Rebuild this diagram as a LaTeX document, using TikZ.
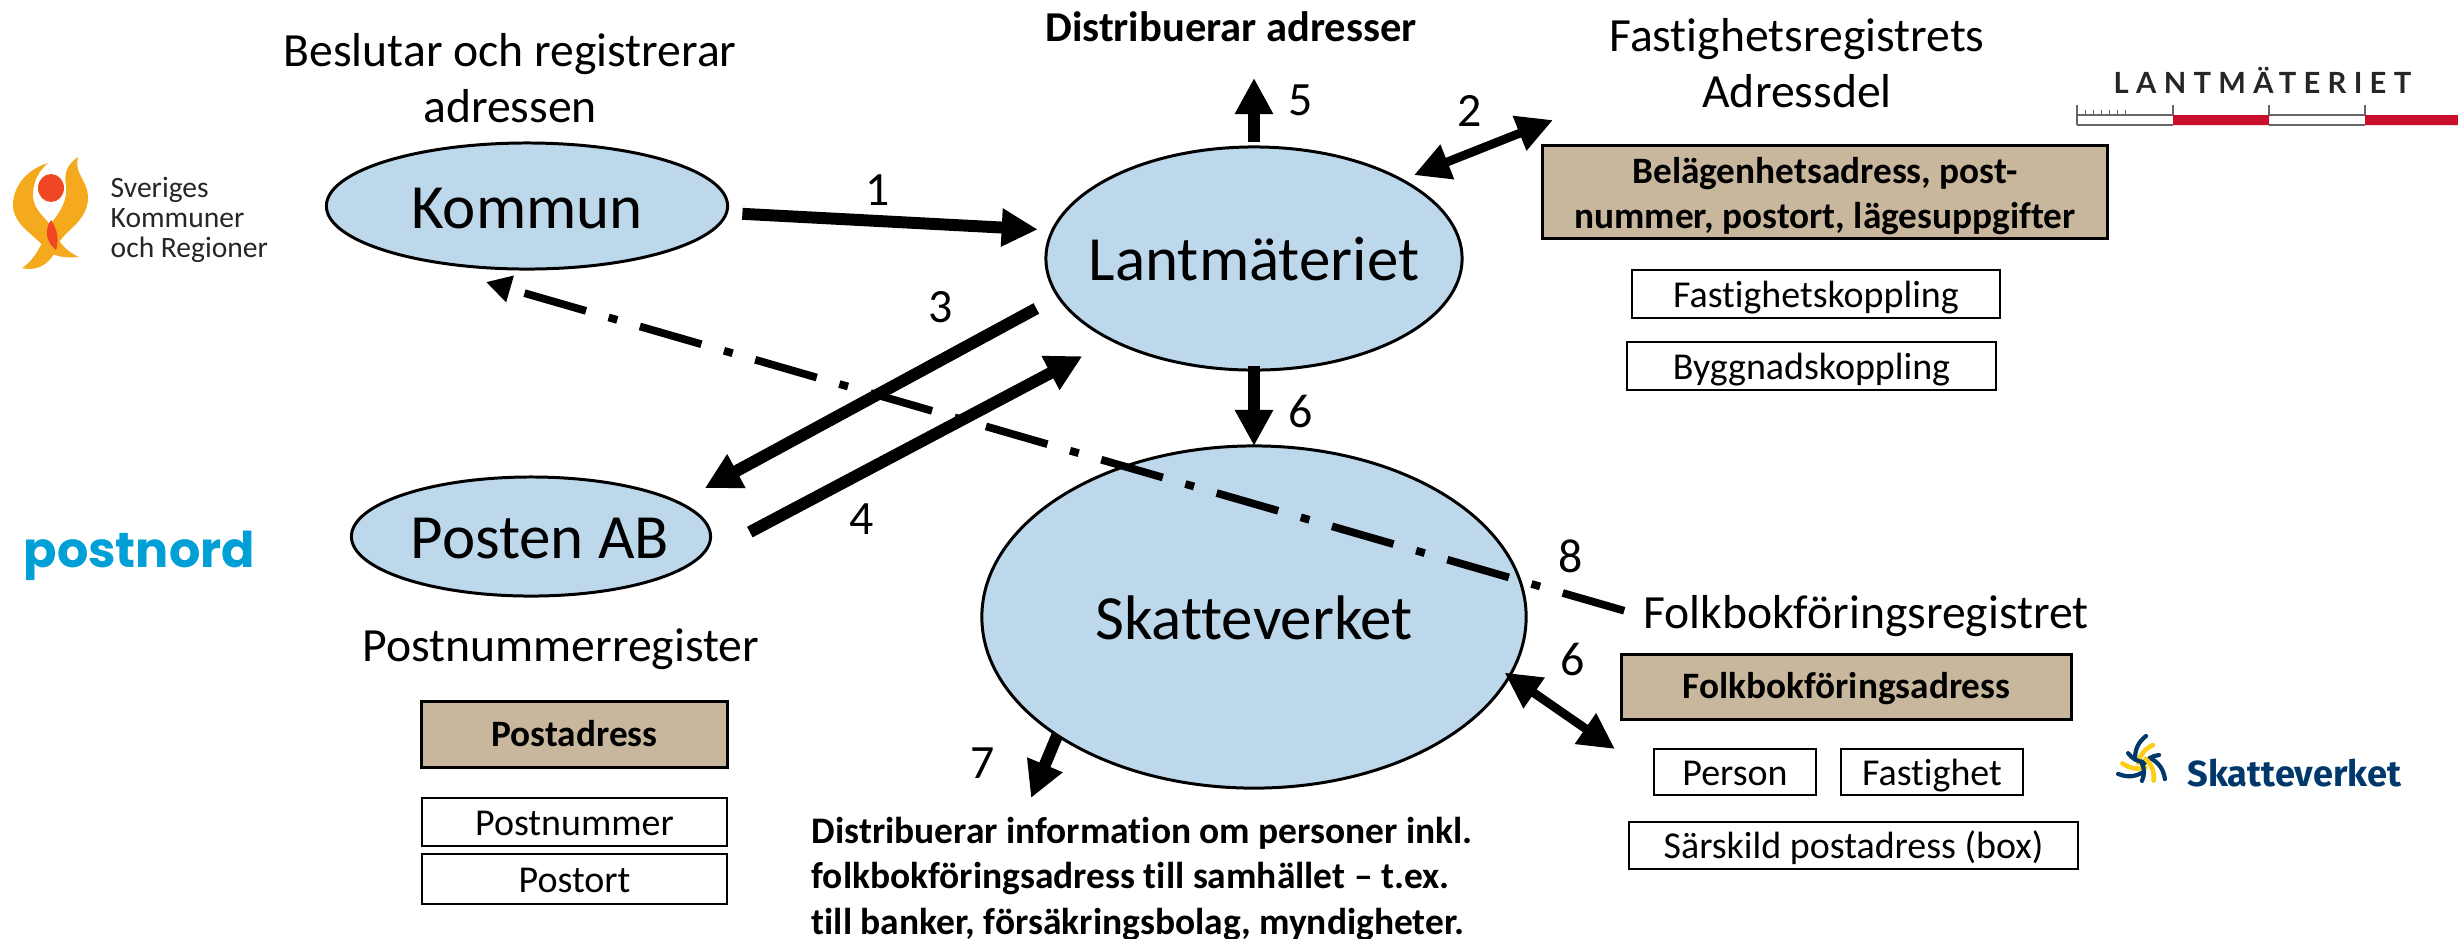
\documentclass[tikz,border=0pt]{standalone}
\usepackage{fontspec}
\setmainfont[Ligatures=NoCommon]{Carlito}
\newfontfamily\lmlogofont[LetterSpace=25]{Lato}
\newfontfamily\svlogofont{Fira Sans}
\newfontfamily\pnlogofont{Poppins}
\usetikzlibrary{shapes.geometric,arrows.meta}
\definecolor{ovalblue}{RGB}{189,215,235}
\definecolor{boxtan}{RGB}{201,183,157}
\definecolor{lmred}{RGB}{200,16,46}
\definecolor{svnavy}{RGB}{0,56,107}
\definecolor{svyellow}{RGB}{253,205,20}
\definecolor{pncyan}{RGB}{0,160,214}
\definecolor{skrorange}{RGB}{245,170,30}
\definecolor{skrred}{RGB}{240,70,35}
\begin{document}
\begin{tikzpicture}[x=0.01cm,y=-0.01cm]
        \tikzstyle{agent}=[ellipse,draw=black,fill=ovalblue,line width=0.85pt,inner xsep=-1.6cm,inner ysep=-0.4cm,outer sep=0,text height=0.5cm,text depth=0.06cm,font=\fontsize{17.9}{20}\selectfont]
        \tikzstyle{keybox}=[rectangle,draw=black,fill=boxtan,line width=0.85pt,inner sep=0,outer sep=0,align=center,font=\fontsize{10.6}{12.8}\selectfont\bfseries]
        \tikzstyle{keyone}=[keybox,text height=0.34cm,text depth=0.10cm]
        \tikzstyle{fieldbox}=[rectangle,draw=black,fill=white,line width=0.65pt,inner sep=0,outer sep=0,text height=0.36cm,text depth=0.10cm,font=\fontsize{10.8}{13}\selectfont]
        \tikzstyle{heading}=[inner sep=0,align=center,font=\fontsize{13.55}{16}\selectfont]
        \tikzstyle{note}=[inner sep=0,align=left,font=\fontsize{10.65}{13}\selectfont\bfseries]
        \tikzstyle{num}=[inner sep=0,font=\fontsize{13.6}{16}\selectfont]
        \tikzstyle{flow}=[line width=3.4pt,-{Triangle[length=0.36cm,width=0.36cm]}]
        \tikzstyle{both}=[line width=2.5pt,{Triangle[length=0.36cm,width=0.35cm]}-{Triangle[length=0.36cm,width=0.35cm]}]
        \tikzstyle{ret}=[line width=2.2pt,dash pattern=on 0.64cm off 0.235cm on 0.09cm off 0.235cm,-{Triangle[length=0.25cm,width=0.26cm]}]
        \useasboundingbox (0,0) rectangle (2458,938);

        % ovals
        \node [agent,minimum width=4.01cm,minimum height=1.26cm] (kommun) at (527,206) {Kommun};
        \node [agent,minimum width=4.16cm,minimum height=2.23cm] (lantm) at (1254,258.5) {Lantmäteriet};
        \node [agent,minimum width=3.59cm,minimum height=1.19cm] (posten) at (531,536.5) {\hspace{5pt}Posten AB};
        \node [agent,minimum width=5.44cm,minimum height=3.42cm] (skatte) at (1254,617) {Skatteverket};

        % headings
        \node [heading] (beslut) at (510,78) {Beslutar och registrerar\\adressen};
        \node [heading] (fastreg) at (1797,63) {Fastighetsregistrets\\Adressdel};
        \node [heading] (postreg) at (561,649) {Postnummerregister};
        \node [heading] (folkreg) at (1866,616) {Folkbokföringsregistret};
        \node [note,font=\fontsize{12.1}{14}\selectfont\bfseries] (distaddr) at (1231,27) {Distribuerar adresser};
        \node [note,anchor=west] (distinfo) at (811,879) {Distribuerar information om personer inkl.\\folkbokföringsadress till samhället – t.ex.\\till banker, försäkringsbolag, myndigheter.};

        % boxes
        \node [keybox,minimum width=5.64cm,minimum height=0.92cm] (belagen) at (1825,192) {\rule{0pt}{10pt}Belägenhetsadress, post-\\nummer, postort, lägesuppgifter};
        \node [fieldbox,minimum width=3.68cm,minimum height=0.48cm] (fastkop) at (1816,294) {Fastighetskoppling};
        \node [fieldbox,minimum width=3.69cm,minimum height=0.48cm] (byggkop) at (1811.5,366) {Byggnadskoppling};
        \node [keyone,minimum width=3.05cm,minimum height=0.66cm] (postadr) at (574.5,734) {Postadress};
        \node [fieldbox,minimum width=3.05cm,minimum height=0.48cm] (postnr) at (574.5,822) {Postnummer};
        \node [fieldbox,minimum width=3.05cm,minimum height=0.50cm] (postort) at (574.5,879) {Postort};
        \node [keyone,minimum width=4.49cm,minimum height=0.65cm] (folkadr) at (1846.5,686.5) {Folkbokföringsadress};
        \node [fieldbox,minimum width=1.62cm,minimum height=0.44cm] (person) at (1735,772) {Person};
        \node [fieldbox,minimum width=1.82cm,minimum height=0.44cm] (fastig) at (1932,772) {Fastighet};
        \node [fieldbox,minimum width=4.49cm,minimum height=0.47cm] (sarskild) at (1853.5,845.5) {Särskild postadress (box)};

        % free arrow ends
        \coordinate (addrup) at (1254,78);
        \coordinate (addrdel) at (1553,120);
        \coordinate (sameh) at (1031,798);
        \coordinate (folkpil) at (1615,749);
        \coordinate (kommunpil) at (486,282);

        % arrows
        \draw [flow,shorten <=0.16cm,shorten >=0.15cm] (kommun.-2.3) -- (lantm.172.5);
        \draw [both,shorten <=0.13cm] (lantm.28) -- (addrdel);
        \draw [flow,shorten <=0.25cm,shorten >=0.30cm] (lantm.191.8) -- (posten.13.1);
        \draw [flow,shorten <=0.895cm,shorten >=0.34cm] (posten.-15) -- (lantm.210.2);
        \draw [flow,shorten <=0.05cm] (lantm.north) -- (addrup);
        \draw [flow,shorten <=-0.04cm] (lantm.south) -- (skatte.north);
        \draw [flow] (skatte.211.5) -- (sameh);
        \draw [both,shorten <=-0.06cm] (skatte.-13) -- (folkpil);
        \draw [ret,shorten <=0.19cm] (folkreg.west) -- (kommunpil);

        % numbers
        \node [num] (n1) at (878,190) {1};
        \node [num] (n2) at (1470,111) {2};
        \node [num] (n3) at (941,307) {3};
        \node [num] (n4) at (862,519) {4};
        \node [num] (n5) at (1301,100) {5};
        \node [num] (n6a) at (1301,412) {6};
        \node [num] (n6b) at (1573,660) {6};
        \node [num] (n7) at (983,763) {7};
        \node [num] (n8) at (1571,556) {8};

        % lantmateriet logo
        \node [inner sep=0,anchor=base west,font=\fontsize{8.3}{10}\lmlogofont\bfseries,text=black!85] (lmlogo) at (2113,93) {LANTMÄTERIET};
        \draw [black!60,line width=0.5pt] (2077,115) -- (2173,115) (2077,125) -- (2173,125) (2269,115) -- (2365,115) (2269,125) -- (2365,125);
        \fill [lmred] (2173,115) rectangle (2269,125) (2365,115) rectangle (2458,125);
        \draw [black!60,line width=0.4pt] (2077,105) -- (2077,125) (2173,105) -- (2173,115) (2269,105) -- (2269,115) (2365,105) -- (2365,115);
        \foreach \t in {2085,2093,...,2125} {
          \draw [black!60,line width=0.3pt] (\t,110) -- (\t,115);
        }

        % skatteverket logo
        \node [inner sep=0,anchor=base west,font=\fontsize{10.3}{13}\svlogofont\bfseries,text=svnavy] (svlogo) at (2187,786) {Skatteverket};
        \foreach \r in {0,120,240} {
          \begin{scope}[shift={(2143,763)},rotate=\r,line cap=round,line width=1.2pt]
            \draw [svnavy] (3,-27) to[bend right=25] (-8,-5);
            \draw [svyellow,line width=1.3pt] (10,-18) to[bend right=25] (-5,0);
            \draw [svnavy] (16,-8) to[bend right=25] (0,2);
          \end{scope}
        }

        % postnord logo
        \node [inner sep=0,anchor=base west,font=\fontsize{14}{16}\pnlogofont\bfseries,text=pncyan] (pnlogo) at (23,567) {postnord};

        % skr logo
        \fill [skrorange] (48,163) .. controls (25,170) and (13,188) .. (13,205) .. controls (13,225) and (35,235) .. (45,248) .. controls (52,257) and (65,258) .. (79,257) .. controls (68,252) and (60,245) .. (55,232) .. controls (48,218) and (33,212) .. (33,195) .. controls (33,180) and (40,170) .. (48,163) -- cycle;
        \fill [skrorange] (78,157) .. controls (66,165) and (64,175) .. (66,185) .. controls (68,200) and (60,212) .. (52,222) .. controls (45,235) and (38,258) .. (22,268) .. controls (40,272) and (52,262) .. (58,245) .. controls (62,232) and (88,222) .. (88,198) .. controls (88,180) and (74,175) .. (78,157) -- cycle;
        \fill [skrred] (51,188) ellipse (13 and 14);
        \fill [skrred] (51,220) .. controls (44,230) and (46,242) .. (56,250) .. controls (59,240) and (58,230) .. (51,220) -- cycle;
        \node [inner sep=0,anchor=base west,align=left,font=\fontsize{8.4}{8.53}\selectfont,text=black!85] (skrlogo) at (110,257) {Sveriges\\Kommuner\\och Regioner};
\end{tikzpicture}
\end{document}
